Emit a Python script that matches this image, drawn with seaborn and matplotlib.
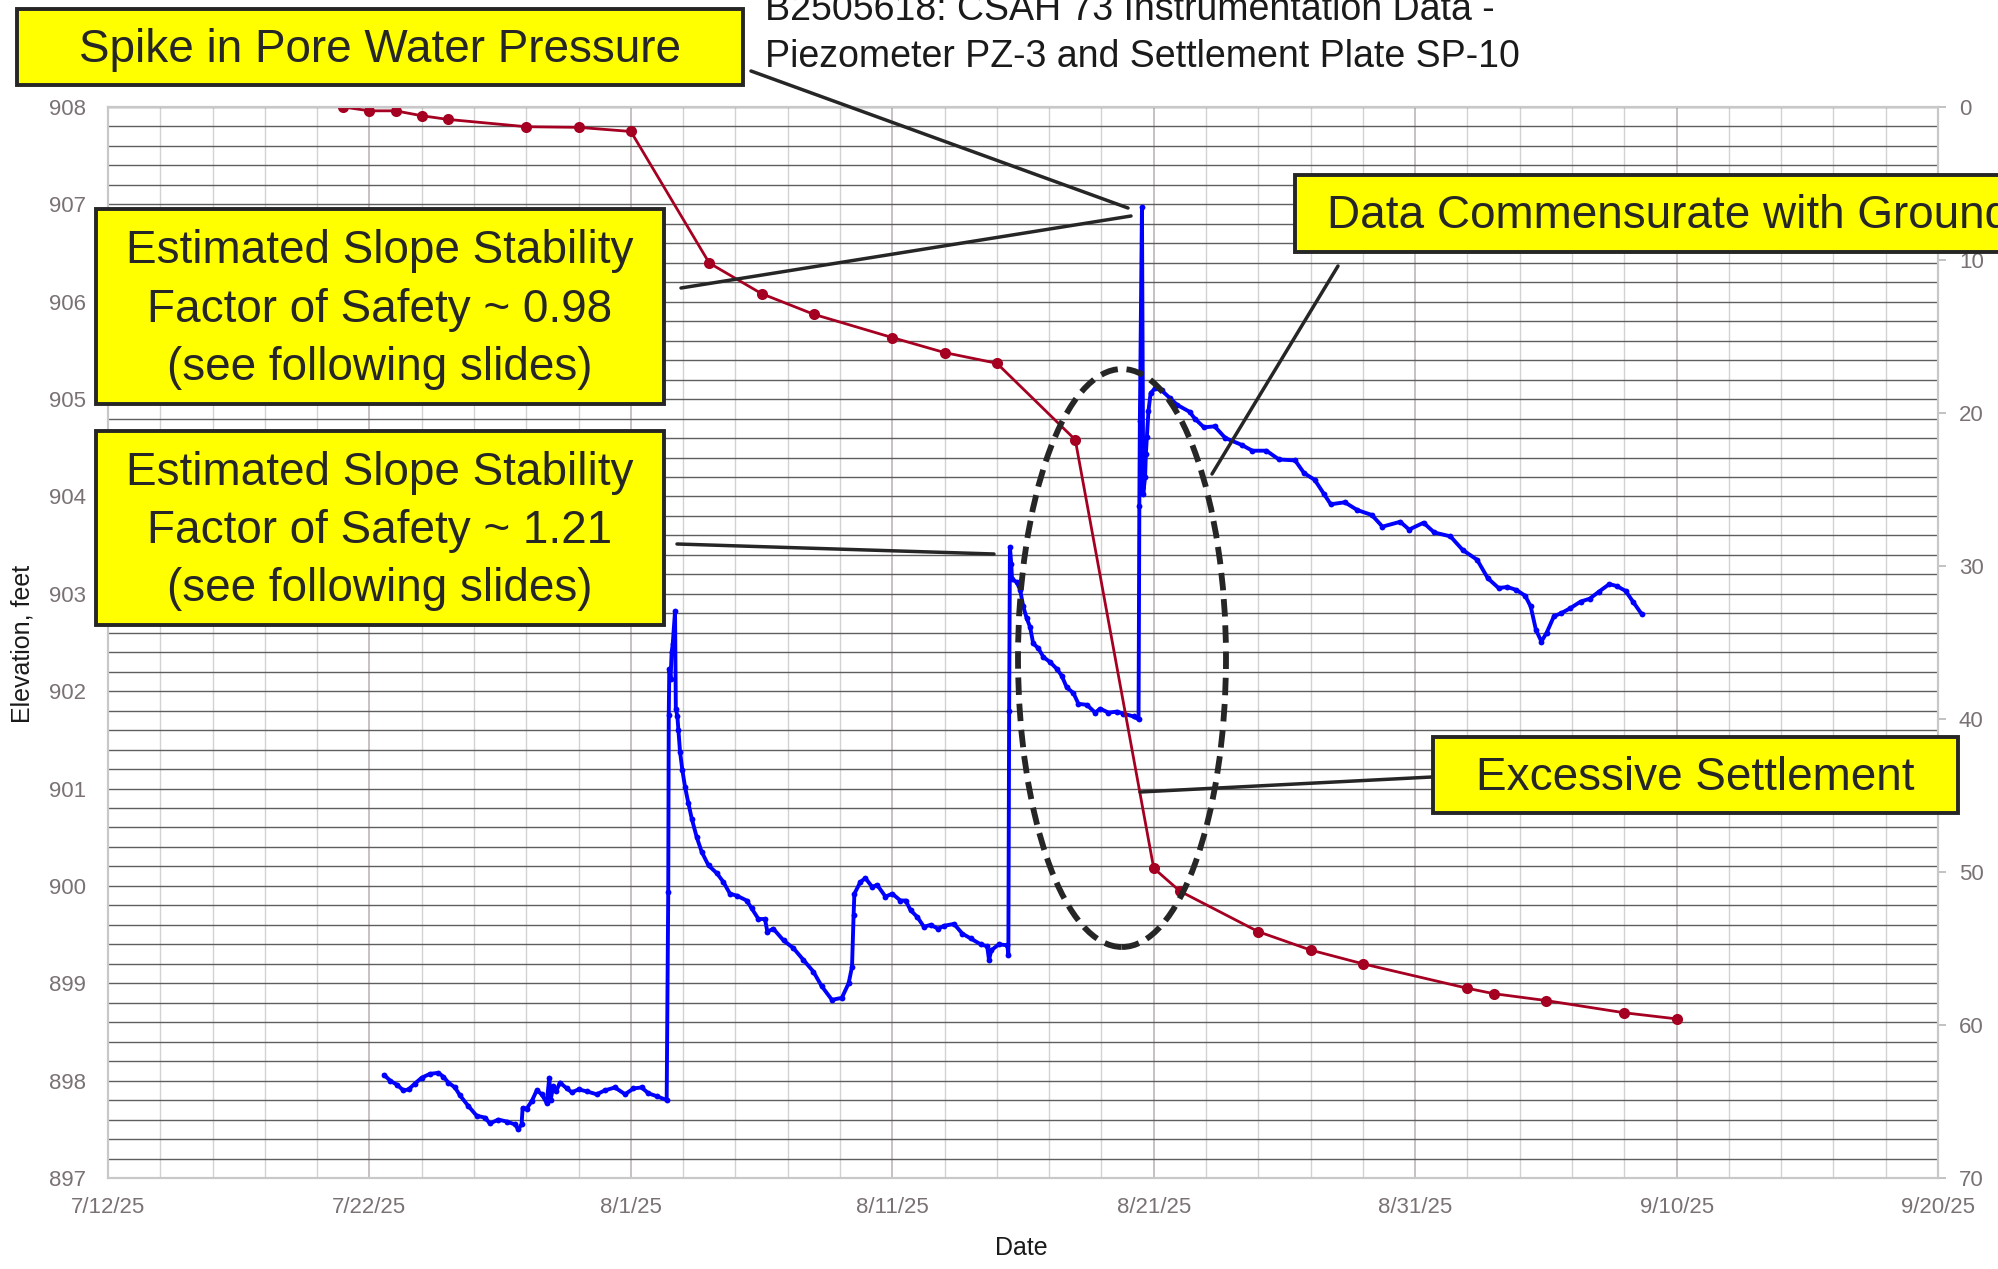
import pandas as pd
import seaborn as sns
import matplotlib.pyplot as plt
import matplotlib.dates as mdates
from matplotlib.ticker import MultipleLocator
from matplotlib.patches import Rectangle, Ellipse
from matplotlib.lines import Line2D

# ---- data ----
start = pd.Timestamp("2025-07-12")

# piezometer PZ-3, days after 7/12/25 and elevation (ft)
pz_day = [
    10.56, 10.79, 11.04, 11.30, 11.50, 11.74, 12.00, 12.32, 12.64, 12.83,
    13.02, 13.27, 13.46, 13.78, 14.10, 14.42, 14.61, 14.93, 15.25, 15.57,
    15.69, 15.82, 15.86, 16.01, 16.21, 16.40, 16.59, 16.78, 16.88, 16.93,
    17.03, 17.14, 17.29, 17.55, 17.74, 18.00, 18.31, 18.69, 19.01, 19.39,
    19.78, 20.10, 20.41, 20.67, 20.99, 21.37,
    21.43, 21.45, 21.47, 21.52, 21.56, 21.60, 21.69, 21.72, 21.78, 21.82,
    21.88, 21.97, 22.07, 22.20, 22.33, 22.52, 22.71, 22.97, 23.29, 23.54,
    23.79, 24.05, 24.43, 24.62, 24.88, 25.13, 25.22, 25.45, 25.84, 26.22,
    26.60, 26.98, 27.30, 27.69, 28.07, 28.33, 28.46, 28.52, 28.55, 28.78,
    28.97, 29.23, 29.42, 29.74, 30.00, 30.31, 30.51, 30.70, 30.96, 31.21,
    31.47, 31.75, 31.98, 32.36, 32.68, 33.00, 33.38, 33.63, 33.70, 33.79,
    34.08, 34.40, 34.44,
    34.47, 34.50, 34.55, 34.58, 34.76, 34.89, 35.01, 35.14, 35.27, 35.39,
    35.59, 35.78, 36.03, 36.29, 36.48, 36.67, 36.93, 37.12, 37.44, 37.76,
    37.95, 38.27, 38.59, 38.84, 39.23, 39.42,
    39.45, 39.47, 39.55, 39.60, 39.67, 39.70, 39.74, 39.80, 39.88, 40.05,
    40.30, 40.62, 40.90, 41.37, 41.57, 41.92, 42.33, 42.74, 43.36, 43.77,
    44.31, 44.79, 45.41, 45.75, 46.16, 46.50, 46.77, 47.31, 47.79, 48.34,
    48.75, 49.43, 49.77, 50.32, 50.73, 51.35, 51.82, 52.37, 52.78, 53.19,
    53.53, 53.87, 54.21, 54.42, 54.62, 54.83, 55.03, 55.31, 55.58, 55.92,
    56.33, 56.68, 57.02, 57.43, 57.71, 58.05, 58.33, 58.67,
]
pz_elev = [
    898.06, 898.00, 897.96, 897.90, 897.91, 897.97, 898.03, 898.07, 898.08, 898.04,
    897.98, 897.93, 897.85, 897.74, 897.64, 897.62, 897.56, 897.60, 897.58, 897.55,
    897.50, 897.55, 897.72, 897.71, 897.79, 897.90, 897.86, 897.77, 898.03, 897.80,
    897.94, 897.89, 897.98, 897.92, 897.88, 897.91, 897.89, 897.86, 897.90, 897.93,
    897.86, 897.92, 897.93, 897.87, 897.84, 897.80,
    899.94, 901.76, 902.23, 902.13, 902.40, 902.48, 902.82, 901.82, 901.74, 901.60,
    901.38, 901.19, 901.02, 900.85, 900.69, 900.50, 900.35, 900.21, 900.13, 900.04,
    899.92, 899.90, 899.85, 899.77, 899.66, 899.66, 899.53, 899.56, 899.44, 899.36,
    899.24, 899.12, 898.97, 898.83, 898.85, 899.00, 899.17, 899.70, 899.92, 900.04,
    900.08, 899.99, 900.01, 899.89, 899.92, 899.85, 899.85, 899.75, 899.68, 899.58,
    899.60, 899.56, 899.59, 899.61, 899.51, 899.46, 899.40, 899.38, 899.24, 899.34,
    899.40, 899.39, 899.29,
    901.80, 903.48, 903.31, 903.15, 903.12, 903.04, 902.87, 902.75, 902.66, 902.49,
    902.44, 902.35, 902.30, 902.23, 902.16, 902.04, 901.98, 901.87, 901.86, 901.78,
    901.82, 901.78, 901.79, 901.77, 901.74, 901.71,
    903.90, 904.77, 906.97, 904.03, 904.20, 904.44, 904.61, 904.88, 905.06, 905.11,
    905.09, 905.01, 904.94, 904.87, 904.80, 904.71, 904.72, 904.60, 904.53, 904.47,
    904.47, 904.38, 904.37, 904.24, 904.17, 904.03, 903.92, 903.94, 903.86, 903.81,
    903.69, 903.74, 903.66, 903.73, 903.63, 903.59, 903.45, 903.35, 903.16, 903.06,
    903.07, 903.04, 902.98, 902.87, 902.63, 902.51, 902.60, 902.77, 902.80, 902.85,
    902.92, 902.95, 903.02, 903.10, 903.08, 903.03, 902.92, 902.79,
]

# settlement plate SP-10 (right axis, inverted)
sp_date = [
    "2025-07-21", "2025-07-22", "2025-07-23", "2025-07-24", "2025-07-25",
    "2025-07-28", "2025-07-30", "2025-08-01", "2025-08-04", "2025-08-06",
    "2025-08-08", "2025-08-11", "2025-08-13", "2025-08-15", "2025-08-18",
    "2025-08-21", "2025-08-22", "2025-08-25", "2025-08-27", "2025-08-29",
    "2025-09-02", "2025-09-03", "2025-09-05", "2025-09-08", "2025-09-10",
]
sp_settle = [
    0.0, 0.25, 0.25, 0.57, 0.81, 1.29, 1.33, 1.6, 10.2, 12.2,
    13.55, 15.07, 16.05, 16.75, 21.75, 49.75, 51.25, 53.9, 55.1, 56.0,
    57.6, 57.95, 58.4, 59.2, 59.6,
]

x_ticks = pd.date_range("2025-07-12", "2025-09-20", freq="10D")
x_minor = pd.date_range("2025-07-12", "2025-09-20", freq="2D")
right_ticks = [0, 10, 20, 30, 40, 50, 60, 70]

pz = pd.DataFrame({"date": start + pd.to_timedelta(pz_day, unit="D"), "elev": pz_elev})
sp = pd.DataFrame({"date": pd.to_datetime(sp_date), "settle": sp_settle})

# ---- figure ----
sns.set_style("white")
plt.rcParams["font.family"] = ["Liberation Sans", "DejaVu Sans"]

W, H = 1999, 1269
fig = plt.figure(figsize=(W / 100, H / 100), dpi=100)


def fx(px):
    return px / W


def fy(py):
    return 1 - py / H


ax = fig.add_axes([fx(108), fy(1178), fx(1938) - fx(108), fy(107) - fy(1178)])

sns.lineplot(data=pz, x="date", y="elev", ax=ax, estimator=None, sort=False,
             color="#0000ff", linewidth=2.8, marker="o", markersize=4.2,
             markeredgewidth=0, zorder=3)

ax.set_xlim(x_ticks[0], x_ticks[-1])
ax.set_ylim(897, 908)
ax.set_xticks(x_ticks)
ax.set_xticks(x_minor, minor=True)
ax.xaxis.set_major_formatter(mdates.DateFormatter("%-m/%-d/%y"))
ax.set_yticks(range(897, 909))
ax.yaxis.set_minor_locator(MultipleLocator(0.2))
ax.grid(True, which="both", axis="y", color="#5e5e5e", linewidth=1.0)
ax.grid(True, which="major", axis="x", color="#bdb6b6", linewidth=1.2)
ax.grid(True, which="minor", axis="x", color="#d2d2d2", linewidth=1.0)
ax.set_axisbelow(True)
ax.set_xlabel("")
ax.set_ylabel("")
ax.tick_params(axis="both", which="both", length=0, labelsize=16, labelcolor="#7a7272")
ax.tick_params(axis="y", pad=16)
ax.tick_params(axis="x", pad=14)
for s in ax.spines.values():
    s.set_color("#c8c8c8")
    s.set_linewidth(1.5)

ax2 = ax.twinx()
sns.lineplot(data=sp, x="date", y="settle", ax=ax2, estimator=None, sort=False,
             color="#a50021", linewidth=2, marker="o", markersize=8,
             markeredgewidth=0)
ax2.set_ylim(70, 0)
ax2.set_yticks(right_ticks)
ax2.set_ylabel("")
ax2.grid(False)
ax2.tick_params(axis="y", length=6, width=1.2, color="#b8b8b8", pad=9,
                labelsize=16, labelcolor="#7a7272")
for s in ax2.spines.values():
    s.set_color("#c8c8c8")
    s.set_linewidth(1.5)

fig.text(fx(23), fy(644), "Elevation, feet", rotation=90, ha="center", va="center",
         fontsize=18, color="#1a1a1a")
fig.text(fx(1021), fy(1248), "Date", ha="center", va="center", fontsize=18, color="#1a1a1a")

# title (top line runs off the page as in the slide)
fig.text(fx(765), fy(20), "B2505618: CSAH 73 Instrumentation Data -", ha="left",
         va="baseline", fontsize=27, color="#1a1a1a")
fig.text(fx(765), fy(67), "Piezometer PZ-3 and Settlement Plate SP-10", ha="left",
         va="baseline", fontsize=27, color="#1a1a1a")

# ---- callouts ----
ink = "#262626"
leaders = [
    ((751, 71), (1128, 208)),
    ((681, 288), (1131, 216)),
    ((677, 544), (994, 554)),
    ((1338, 266), (1212, 474)),
    ((1432, 777), (1140, 792)),
]
for (x0, y0), (x1, y1) in leaders:
    fig.add_artist(Line2D([fx(x0), fx(x1)], [fy(y0), fy(y1)], color=ink,
                          linewidth=2.5, zorder=4))

fig.add_artist(Ellipse((fx(1122), fy(658)), 208 / W, 578 / H, transform=fig.transFigure,
                       fill=False, edgecolor=ink, linewidth=4.2,
                       linestyle=(0, (3, 1.5)), zorder=4))

boxes = [
    ((17, 9, 743, 85), "Spike in Pore Water Pressure", "center"),
    ((96, 209, 664, 404), "Estimated Slope Stability\nFactor of Safety ~ 0.98\n(see following slides)", "center"),
    ((96, 431, 664, 625), "Estimated Slope Stability\nFactor of Safety ~ 1.21\n(see following slides)", "center"),
    ((1295, 175, 2030, 252), "Data Commensurate with Ground Movement", "left"),
    ((1433, 737, 1958, 813), "Excessive Settlement", "center"),
]
for (x0, y0, x1, y1), label, align in boxes:
    fig.add_artist(Rectangle((fx(x0), fy(y1)), (x1 - x0) / W, (y1 - y0) / H,
                             transform=fig.transFigure, facecolor="#ffff00",
                             edgecolor=ink, linewidth=2.8, zorder=5))
    tx = (x0 + x1) / 2 if align == "center" else x0 + 32
    fig.text(fx(tx), fy((y0 + y1) / 2 + 3), label, ha=align, va="center",
             multialignment="center", fontsize=33, linespacing=1.42,
             color=ink, zorder=6)

fig.savefig("out.png", dpi=100)
